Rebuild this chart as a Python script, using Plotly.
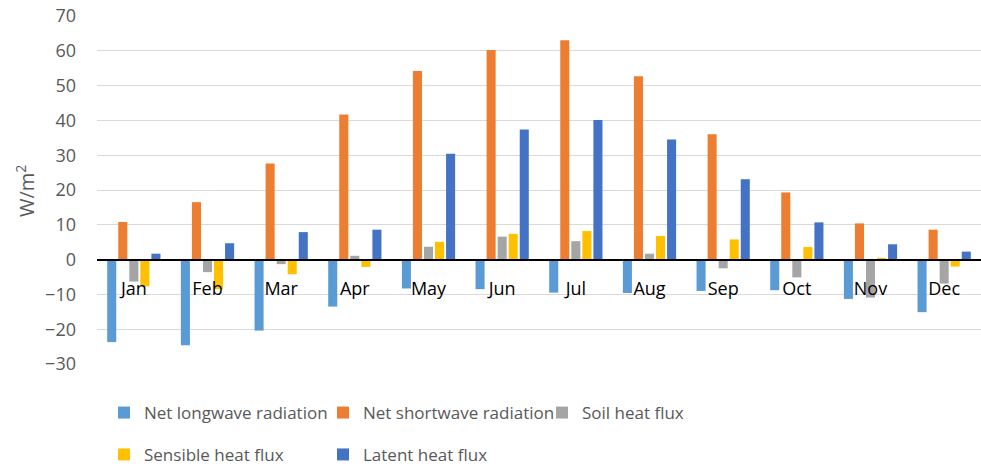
import plotly.graph_objects as go

months = ["Jan", "Feb", "Mar", "Apr", "May", "Jun", "Jul", "Aug", "Sep", "Oct", "Nov", "Dec"]

net_longwave = [-23.7, -24.6, -20.4, -13.5, -8.3, -8.5, -9.5, -9.6, -9.0, -8.8, -11.3, -15.1]
net_shortwave = [10.8, 16.5, 27.6, 41.7, 54.2, 60.2, 63.0, 52.7, 36.0, 19.3, 10.4, 8.6]
soil_heat = [-6.3, -3.6, -1.3, 1.1, 3.7, 6.6, 5.3, 1.7, -2.5, -5.1, -10.9, -6.9]
sensible_heat = [-7.7, -8.5, -4.2, -2.1, 5.1, 7.4, 8.2, 6.8, 5.8, 3.6, 0.5, -2.0]
latent_heat = [1.7, 4.7, 7.9, 8.6, 30.4, 37.4, 40.1, 34.5, 23.1, 10.7, 4.4, 2.3]

y_ticks = [-30, -20, -10, 0, 10, 20, 30, 40, 50, 60, 70]

series = [
    ("Net longwave radiation", net_longwave, "#5B9BD5", "legend"),
    ("Net shortwave radiation", net_shortwave, "#ED7D31", "legend"),
    ("Soil heat flux", soil_heat, "#A5A5A5", "legend"),
    ("Sensible heat flux", sensible_heat, "#FFC000", "legend2"),
    ("Latent heat flux", latent_heat, "#4472C4", "legend2"),
]

FONT = "Open Sans"
GRAY = "#595959"

fig = go.Figure()
for name, vals, color, leg in series:
    fig.add_trace(go.Bar(
        x=months, y=vals, name=name, legend=leg,
        marker=dict(color=color, line=dict(width=0)),
    ))

legend_common = dict(
    orientation="h",
    font=dict(family=FONT, size=17, color=GRAY),
    bgcolor="rgba(0,0,0,0)",
    entrywidth=174,
    xref="container",
    yref="container",
    xanchor="left",
    yanchor="middle",
    itemclick=False,
    tracegroupgap=0,
)

fig.update_layout(
    width=981,
    height=468,
    margin=dict(l=97, r=0, t=16, b=104, autoexpand=False),
    paper_bgcolor="white",
    plot_bgcolor="white",
    barmode="group",
    bargap=0.25,
    bargroupgap=0.18,
    font=dict(family=FONT, color=GRAY),
    legend=dict(x=0.106, y=0.1175, **legend_common),
    legend2=dict(x=0.106, y=0.028, **legend_common),
    xaxis=dict(
        type="category",
        anchor="free",
        position=0.3,
        showline=True,
        linecolor="black",
        linewidth=2,
        showgrid=False,
        ticks="",
        tickfont=dict(family=FONT, size=18, color="black"),
        ticklabelstandoff=13,
    ),
    yaxis=dict(
        range=[-30, 70],
        tickvals=y_ticks,
        showgrid=True,
        gridcolor="#D9D9D9",
        gridwidth=1,
        zeroline=False,
        showline=False,
        ticks="",
        tickfont=dict(family=FONT, size=18, color=GRAY),
        ticklabelstandoff=20,
    ),
    annotations=[dict(
        text="W/m<sup>2</sup>",
        xref="paper", yref="paper",
        x=-0.0814, y=0.497,
        xanchor="center", yanchor="middle",
        textangle=-90, showarrow=False,
        font=dict(family=FONT, size=20, color=GRAY),
    )],
)

fig.write_html("out.html")
